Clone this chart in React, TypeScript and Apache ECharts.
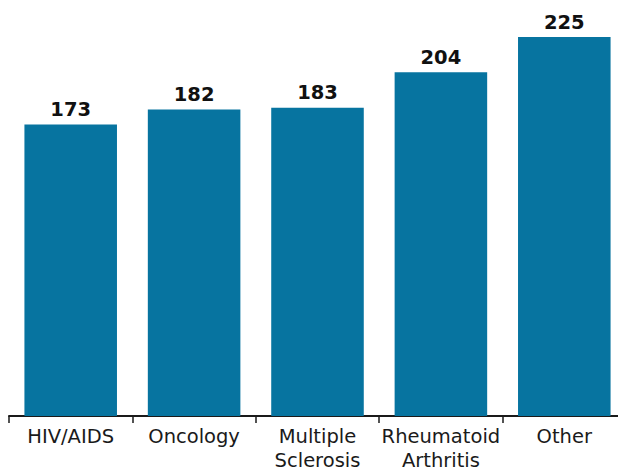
import React, { useEffect, useRef } from "react";
import * as echarts from "echarts";

// Category names and their values
const categories = ["HIV/AIDS", "Oncology", "Multiple\nSclerosis", "Rheumatoid\nArthritis", "Other"];
const values = [173, 182, 183, 204, 225];

const BAR_COLOR = "#0774A0";
const FONT = "'DejaVu Sans', sans-serif";

export default function App() {
  const ref = useRef<HTMLDivElement>(null);

  useEffect(() => {
    if (!ref.current) return;
    const chart = echarts.init(ref.current, undefined, { renderer: "svg" });
    chart.setOption({
      animation: false,
      grid: { left: 9, right: -3, top: 37, bottom: 56, containLabel: false },
      xAxis: {
        type: "category",
        data: categories,
        axisLine: { show: true, lineStyle: { color: "#1a1a1a", width: 2 } },
        axisTick: { show: true, length: 7, lineStyle: { color: "#1a1a1a", width: 1.5 } },
        axisLabel: {
          color: "#1a1a1a",
          fontFamily: FONT,
          fontSize: 19.5,
          lineHeight: 24,
          margin: 8,
          interval: 0,
        },
      },
      yAxis: {
        type: "value",
        min: 0,
        max: 225,
        show: false,
        splitLine: { show: false },
      },
      series: [
        {
          type: "bar",
          data: values,
          barWidth: "75%",
          itemStyle: { color: BAR_COLOR },
          label: {
            show: true,
            position: "top",
            distance: 5,
            color: "#111",
            fontFamily: FONT,
            fontWeight: "bold",
            fontSize: 19.5,
          },
        },
      ],
    });
    return () => chart.dispose();
  }, []);

  return <div ref={ref} style={{ width: 626, height: 472, marginLeft: -8, marginTop: -8 }} />;
}
